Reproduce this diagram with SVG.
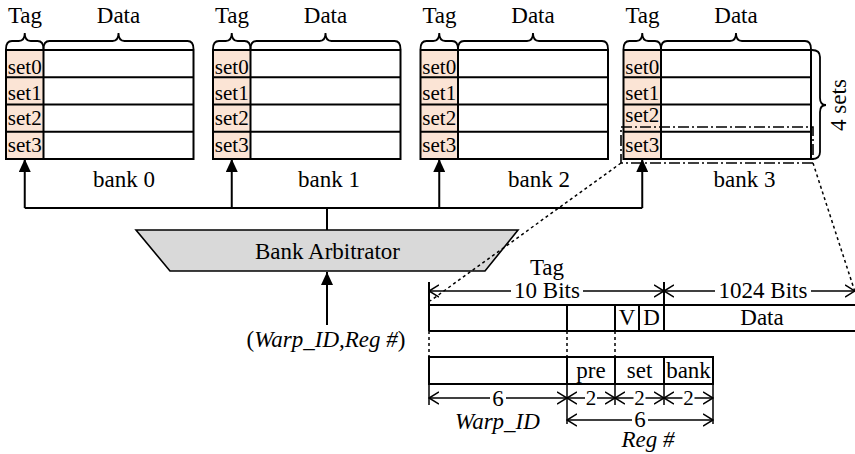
<svg xmlns="http://www.w3.org/2000/svg" width="855" height="454" viewBox="0 0 855 454">
  <style>
    text { font-family: "Liberation Serif", "Times New Roman", serif; font-size: 23px; fill: #000; }
    .c { text-anchor: middle; }
    .it { font-style: italic; }
    .set { font-size: 21px; text-anchor: middle; }
    .small { font-size: 21px; }
    .box { fill: none; stroke: #000; stroke-width: 2; }
    .tagcol { fill: #fbe4d5; stroke: none; }
    .brace { fill: none; stroke: #000; stroke-width: 1.8; }
    .wire { fill: none; stroke: #000; stroke-width: 2; }
    .dot { fill: none; stroke: #000; stroke-width: 1.5; stroke-dasharray: 3 3; }
    .dashdot { fill: none; stroke: #000; stroke-width: 1.6; stroke-dasharray: 11 3 2 3; }
    .dim { fill: none; stroke: #000; stroke-width: 1.5; }
  </style>
  <defs>
    <marker id="arrowFill" markerUnits="userSpaceOnUse" viewBox="0 0 13 12" markerWidth="13" markerHeight="12" refX="13" refY="6" orient="auto">
      <path d="M0,0 L13,6 L0,12 z" fill="#000"/>
    </marker>
    <marker id="openArrow" markerUnits="userSpaceOnUse" viewBox="0 0 11 14" markerWidth="11" markerHeight="14" refX="10" refY="7" orient="auto-start-reverse">
      <path d="M0,1 L10,7 L0,13" fill="none" stroke="#000" stroke-width="1.5"/>
    </marker>
    <!-- one register bank: tag column, data column, four set rows, braces -->
    <g id="bankBody">
      <rect class="tagcol" x="6" y="50" width="37.5" height="109"/>
      <rect class="box" x="6" y="50" width="187.5" height="109"/>
      <path class="box" d="M43.5,50 V159 M6,77.25 H193.5 M6,104.5 H193.5 M6,131.75 H193.5"/>
      <path class="brace" d="M6,49 Q6,41 12,41 H18.75 Q24.75,41 24.75,33 Q24.75,41 30.75,41 H37.5 Q43.5,41 43.5,49"/>
      <path class="brace" d="M43.5,49 Q43.5,41 49.5,41 H112.5 Q118.5,41 118.5,33 Q118.5,41 124.5,41 H187.5 Q193.5,41 193.5,49"/>
      <text class="c" x="25" y="23">Tag</text>
      <text class="c" x="118.5" y="23">Data</text>
      <text class="set" x="24.75" y="74">set0</text>
      <text class="set" x="24.75" y="100">set1</text>
    </g>
  </defs>

  <!-- register banks -->
  <g id="bank0">
    <use href="#bankBody"/>
    <text class="set" x="24.75" y="125">set2</text>
    <text class="set" x="24.75" y="152">set3</text>
    <text class="c" x="124" y="187">bank 0</text>
  </g>
  <g id="bank1" transform="translate(207,0)">
    <use href="#bankBody"/>
    <text class="set" x="24.75" y="125">set2</text>
    <text class="set" x="24.75" y="152">set3</text>
    <text class="c" x="122" y="187">bank 1</text>
  </g>
  <g id="bank2" transform="translate(414.5,0)">
    <use href="#bankBody"/>
    <text class="set" x="24.75" y="125">set2</text>
    <text class="set" x="24.75" y="152">set3</text>
    <text class="c" x="124.5" y="187">bank 2</text>
  </g>
  <g id="bank3" transform="translate(617.5,0)">
    <use href="#bankBody"/>
    <text class="set" x="24.75" y="122">set2</text>
    <text class="set" x="24.75" y="152">set3</text>
    <text class="c" x="127" y="187">bank 3</text>
    <!-- highlighted set3 entry -->
    <rect class="dashdot" x="3.5" y="127" width="192" height="36"/>
    <!-- "4 sets" brace -->
    <path class="brace" d="M194.5,50 Q202.5,50 202.5,57 V98 Q202.5,105 208.5,105 Q202.5,105 202.5,112 V152 Q202.5,159 194.5,159"/>
    <text class="c" transform="translate(228.5,105) rotate(-90)">4 sets</text>
  </g>

  <!-- arbitrator -->
  <g id="arbitrator">
    <path d="M136,230 H518 L485,271 H170 Z" fill="#d9d9d9" stroke="#000" stroke-width="1.6"/>
    <text class="c" x="327.5" y="259">Bank Arbitrator</text>
  </g>

  <!-- request input label -->
  <g id="request">
    <text class="c" x="326" y="347">(<tspan class="it">Warp_ID,Reg #</tspan>)</text>
  </g>

  <!-- connectors -->
  <g id="connectors">
    <path class="wire" d="M24.75,208 H642.25 M327,208 V230"/>
    <line class="wire" x1="24.75" y1="208" x2="24.75" y2="159" marker-end="url(#arrowFill)"/>
    <line class="wire" x1="231.75" y1="208" x2="231.75" y2="159" marker-end="url(#arrowFill)"/>
    <line class="wire" x1="439.25" y1="208" x2="439.25" y2="159" marker-end="url(#arrowFill)"/>
    <line class="wire" x1="642.25" y1="208" x2="642.25" y2="159" marker-end="url(#arrowFill)"/>
    <line class="wire" x1="327" y1="325" x2="327" y2="272" marker-end="url(#arrowFill)"/>
    <!-- zoom-in guides from the highlighted entry -->
    <path class="dot" d="M621,163 L430,301 M813,163 L856,295"/>
  </g>

  <!-- tag/data entry layout -->
  <g id="entryLayout">
    <path class="box" d="M429,305 H856 M429,331 H856 M429,282 V331 M567,305 V331 M615,305 V331 M639,305 V331 M664,282 V331"/>
    <line class="dim" x1="429" y1="291" x2="511" y2="291" marker-start="url(#openArrow)"/>
    <line class="dim" x1="583" y1="291" x2="664" y2="291" marker-end="url(#openArrow)"/>
    <line class="dim" x1="664" y1="291" x2="715" y2="291" marker-start="url(#openArrow)"/>
    <line class="dim" x1="811" y1="291" x2="855" y2="291" marker-end="url(#openArrow)"/>
    <text class="c" x="547" y="275">Tag</text>
    <text class="c" x="547" y="298">10 Bits</text>
    <text class="c" x="763" y="298">1024 Bits</text>
    <text class="c" x="627" y="325">V</text>
    <text class="c" x="651.5" y="325">D</text>
    <text class="c" x="762" y="325">Data</text>
    <path class="dot" d="M429,331 V357 M567,331 V357 M615,331 V357"/>
  </g>

  <!-- register address layout -->
  <g id="addressLayout">
    <path class="box" d="M429,357 H713 V384 H429 Z M567,357 V384 M615,357 V384 M664,357 V384"/>
    <text class="c" x="591" y="378">pre</text>
    <text class="c" x="639.5" y="378">set</text>
    <text class="c" x="688.5" y="378">bank</text>
    <path class="dim" d="M429,384 V405 M567,384 V424 M615,384 V405 M664,384 V405 M713,384 V424"/>
    <line class="dim" x1="429" y1="398" x2="490" y2="398" marker-start="url(#openArrow)"/>
    <line class="dim" x1="506" y1="398" x2="567" y2="398" marker-end="url(#openArrow)"/>
    <line class="dim" x1="567" y1="398" x2="585" y2="398" marker-start="url(#openArrow)"/>
    <line class="dim" x1="597" y1="398" x2="615" y2="398" marker-end="url(#openArrow)"/>
    <line class="dim" x1="615" y1="398" x2="633.5" y2="398" marker-start="url(#openArrow)"/>
    <line class="dim" x1="645.5" y1="398" x2="664" y2="398" marker-end="url(#openArrow)"/>
    <line class="dim" x1="664" y1="398" x2="682.5" y2="398" marker-start="url(#openArrow)"/>
    <line class="dim" x1="694.5" y1="398" x2="713" y2="398" marker-end="url(#openArrow)"/>
    <line class="dim" x1="567" y1="420" x2="632" y2="420" marker-start="url(#openArrow)"/>
    <line class="dim" x1="648" y1="420" x2="713" y2="420" marker-end="url(#openArrow)"/>
    <text class="c" x="498" y="405.5">6</text>
    <text class="c small" x="591" y="405">2</text>
    <text class="c small" x="639.5" y="405">2</text>
    <text class="c small" x="688.5" y="405">2</text>
    <text class="c" x="640" y="427">6</text>
    <text class="c it" x="497.5" y="429">Warp_ID</text>
    <text class="c it" x="648" y="447">Reg #</text>
  </g>
</svg>
